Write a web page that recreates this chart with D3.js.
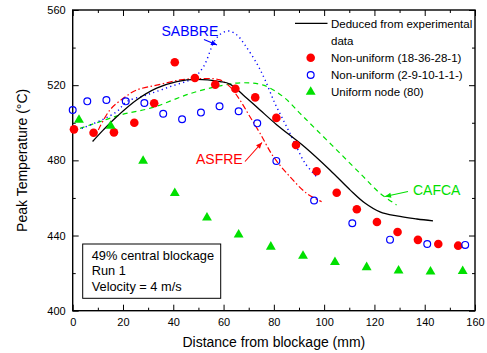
<!DOCTYPE html>
<html><head><meta charset="utf-8">
<script src="https://cdn.jsdelivr.net/npm/d3@7"></script>
<style>
body{margin:0;background:#fff;}
svg text{font-family:"Liberation Sans",Arial,sans-serif;}
</style></head>
<body><svg id="chart" width="487" height="353"></svg>
<script>
// ---- data ----
const nonUniform18 = [[0.5,496.5],[8.3,494.7],[16.4,494.9],[24.5,500],[32.4,510.4],[40.6,532.2],[48.6,523.8],[56.7,520.3],[64.7,518.1],[72.6,513.5],[81,502.6],[88.8,488.2],[97,474.2],[105,462.8],[113,454],[121,447.2],[129.2,441.9],[137.3,437.7],[145.4,435.5],[153.3,434.6]];
const nonUniform2 = [[0,506.8],[5.8,511.4],[13.4,512.1],[21.1,511.4],[28.5,510.5],[36,504.8],[43.5,501.9],[51,505.4],[58.4,508.8],[66,506.1],[73.4,499.7],[81,479.7],[96,458.6],[111.2,446.5],[126.2,437.8],[141,435.5],[156.1,435]];
const uniform80 = [[2.5,501.5],[15.1,498.3],[28,479.7],[40.6,462.5],[53.4,449.5],[66,440.5],[78.8,434],[91.6,429.1],[104.3,425.8],[116.9,423.1],[129.6,421.3],[142.3,420.8],[155.1,421]];
const deduced = [[7.9,490],[12.2,496.2],[17.5,503.2],[25.4,512.1],[33.4,518.4],[41.4,521.9],[49.3,523.1],[58.6,521.9],[62.5,520.6],[67.8,514.8],[74.5,506.8],[81.1,499],[92.4,487],[102.3,474.9],[110.3,464.3],[116.2,457.3],[122.2,452.6],[128.9,450.4],[136.9,448.8],[143.3,447.8]];
const asfre = [[10.2,496.2],[14.8,506.8],[20.1,513],[25.4,517.4],[33.4,520],[42.7,522.8],[50,523.5],[58.6,522.8],[62.5,519.2],[66.5,512.1],[70.5,503.2],[74.5,494.4],[79.8,482],[86.4,471.3],[93,462.5],[99,458]];
const sabbre = [[3.6,497],[11.5,501.5],[17.5,505.9],[21.5,511.2],[29.4,514.8],[38.7,519.2],[47.9,523.8],[52,529.8],[56.6,544],[59.5,547.8],[62.3,548.8],[65.5,546.5],[68.5,541.4],[73.2,531.6],[76.5,522.8],[80.4,510.4],[84.4,499.7],[88.2,489.5],[92.4,478.5],[97,471.3]];
const cafca = [[2.9,497],[10.9,500.6],[18.8,504.1],[32,508.2],[46.7,515.5],[59.9,520],[67.8,521.3],[75.8,520],[83.7,513.9],[90.4,505],[97,496.2],[106.3,483.8],[115.6,471.3],[122.2,462.5],[128.8,456.3]];
const xTicks = [0,20,40,60,80,100,120,140,160];
const yTicks = [400,440,480,520,560];
const legendLabels = ["Deduced from experimental","data","Non-uniform (18-36-28-1)","Non-uniform (2-9-10-1-1-)","Uniform node (80)"];
const boxLines = ["49% central blockage","Run 1","Velocity = 4 m/s"];

const svg = d3.select("#chart");
const L=72.7,R=475,T=10,B=310.7;
const x = d3.scaleLinear().domain([0,160]).range([L,R]);
const y = d3.scaleLinear().domain([400,560]).range([B,T]);
const font = '"Liberation Sans",Arial,sans-serif';

// axes
function styleAxis(g){g.select(".domain").remove();g.selectAll("line").attr("stroke","#000").attr("stroke-width",1);g.selectAll("text").attr("font-size",11).attr("fill","#000").attr("font-family",font);}
svg.append("g").attr("transform",`translate(0,${B})`).call(d3.axisBottom(x).tickValues(xTicks).tickSizeInner(-6).tickSizeOuter(0).tickPadding(8)).call(styleAxis);
svg.append("g").attr("transform",`translate(0,${B})`).call(d3.axisBottom(x).tickValues(d3.range(10,160,20)).tickSizeInner(-3).tickSizeOuter(0).tickFormat("")).call(styleAxis);
svg.append("g").attr("transform",`translate(0,${T})`).call(d3.axisTop(x).tickValues(xTicks).tickSizeInner(-6).tickSizeOuter(0).tickFormat("")).call(styleAxis);
svg.append("g").attr("transform",`translate(0,${T})`).call(d3.axisTop(x).tickValues(d3.range(10,160,20)).tickSizeInner(-3).tickSizeOuter(0).tickFormat("")).call(styleAxis);
svg.append("g").attr("transform",`translate(${L},0)`).call(d3.axisLeft(y).tickValues(yTicks).tickSizeInner(-6).tickSizeOuter(0).tickPadding(7)).call(styleAxis);
svg.append("g").attr("transform",`translate(${L},0)`).call(d3.axisLeft(y).tickValues(d3.range(420,560,40)).tickSizeInner(-3).tickSizeOuter(0).tickFormat("")).call(styleAxis);
svg.append("g").attr("transform",`translate(${R},0)`).call(d3.axisRight(y).tickValues(yTicks).tickSizeInner(-6).tickSizeOuter(0).tickFormat("")).call(styleAxis);
svg.append("g").attr("transform",`translate(${R},0)`).call(d3.axisRight(y).tickValues(d3.range(420,560,40)).tickSizeInner(-3).tickSizeOuter(0).tickFormat("")).call(styleAxis);
svg.append("rect").attr("x",L).attr("y",T).attr("width",R-L).attr("height",B-T).attr("fill","none").attr("stroke","#000").attr("stroke-width",1.4);

// axis titles
svg.append("text").attr("x",(L+R)/2).attr("y",347).attr("text-anchor","middle").attr("font-size",14).text("Distance from blockage (mm)");
svg.append("text").attr("transform",`translate(27,${(T+B)/2}) rotate(-90)`).attr("text-anchor","middle").attr("font-size",14).text("Peak Temperature (°C)");

// lines
const line = d3.line().x(d=>x(d[0])).y(d=>y(d[1])).curve(d3.curveCatmullRom.alpha(0.5));
const plot = svg.append("g");
plot.append("path").datum(cafca).attr("d",line).attr("fill","none").attr("stroke","#00e000").attr("stroke-width",1.2).attr("stroke-dasharray","5,4");
plot.append("path").datum(sabbre).attr("d",line).attr("fill","none").attr("stroke","#0000ff").attr("stroke-width",1.4).attr("stroke-dasharray","1.2,3.3");
plot.append("path").datum(asfre).attr("d",line).attr("fill","none").attr("stroke","#ff0000").attr("stroke-width",1.2).attr("stroke-dasharray","6,2.5,1.5,2.5");
plot.append("path").datum(deduced).attr("d",line).attr("fill","none").attr("stroke","#000").attr("stroke-width",1.3);

// markers
plot.selectAll(".red").data(nonUniform18).join("circle").attr("cx",d=>x(d[0])).attr("cy",d=>y(d[1])).attr("r",4.3).attr("fill","#ff0000");
plot.selectAll(".blue").data(nonUniform2).join("circle").attr("cx",d=>x(d[0])).attr("cy",d=>y(d[1])).attr("r",3.4).attr("fill","none").attr("stroke","#0000ff").attr("stroke-width",1.2);
const tri = d3.symbol().type(d3.symbolTriangle).size(42);
plot.selectAll(".green").data(uniform80).join("path").attr("d",tri).attr("transform",d=>`translate(${x(d[0])},${y(d[1])})`).attr("fill","#00e000");

// annotations
function arrow(x1,y1,x2,y2,color){
  plot.append("line").attr("x1",x1).attr("y1",y1).attr("x2",x2).attr("y2",y2).attr("stroke",color).attr("stroke-width",1.1);
  const a=Math.atan2(y2-y1,x2-x1),len=6,w=2.6;
  const p=[[x2,y2],[x2-len*Math.cos(a)+w*Math.sin(a),y2-len*Math.sin(a)-w*Math.cos(a)],[x2-len*Math.cos(a)-w*Math.sin(a),y2-len*Math.sin(a)+w*Math.cos(a)]];
  plot.append("path").attr("d","M"+p.join("L")+"Z").attr("fill",color);
}
svg.append("text").attr("x",161.5).attr("y",36).attr("font-size",14).attr("fill","#0000ff").text("SABBRE");
arrow(204,39.5,217,45,"#0000ff");
svg.append("text").attr("x",196).attr("y",163.5).attr("font-size",14).attr("fill","#ff0000").text("ASFRE");
arrow(245,161.5,262,142.5,"#ff0000");
svg.append("text").attr("x",413).attr("y",195).attr("font-size",14).attr("fill","#00e000").text("CAFCA");
arrow(408,191.5,385,196.5,"#00e000");

// legend
const lg = svg.append("g");
lg.append("line").attr("x1",295).attr("x2",327.5).attr("y1",23.3).attr("y2",23.3).attr("stroke","#000").attr("stroke-width",1.3);
lg.append("circle").attr("cx",310.7).attr("cy",57.7).attr("r",4.3).attr("fill","#ff0000");
lg.append("circle").attr("cx",310.7).attr("cy",75).attr("r",3.4).attr("fill","none").attr("stroke","#0000ff").attr("stroke-width",1.2);
lg.append("path").attr("d",tri).attr("transform","translate(310.7,92)").attr("fill","#00e000");
const lgY=[27.5,44.5,61.5,79,96];
lg.selectAll("text").data(legendLabels).join("text").attr("x",331).attr("y",(d,i)=>lgY[i]).attr("font-size",11.5).text(d=>d);

// info box
svg.append("rect").attr("x",82.7).attr("y",244).attr("width",138).attr("height",54.3).attr("fill","#fff").attr("stroke","#000").attr("stroke-width",1);
const bY=[260,274.5,290.5];
svg.selectAll(".box").data(boxLines).join("text").attr("x",91.7).attr("y",(d,i)=>bY[i]).attr("font-size",12.8).text(d=>d);
</script></body></html>
